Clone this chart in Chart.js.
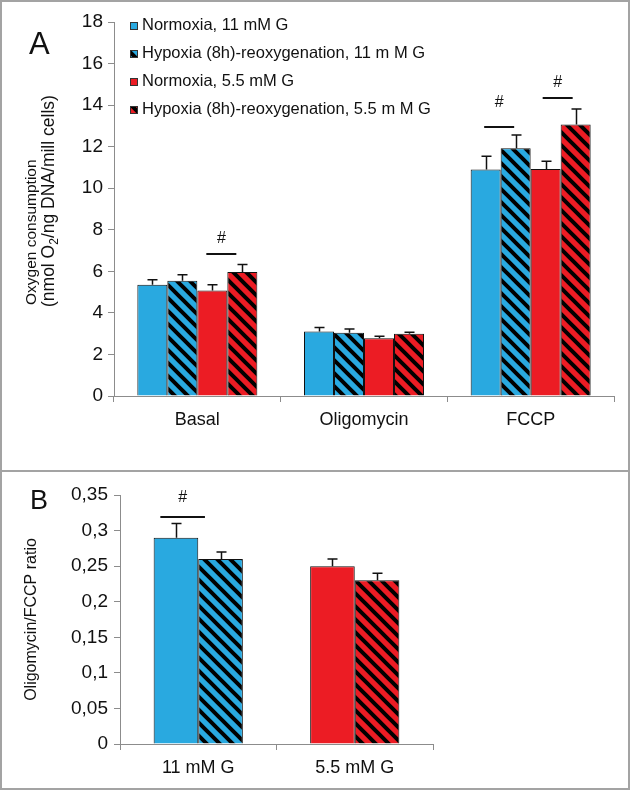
<!DOCTYPE html>
<html>
<head>
<meta charset="utf-8">
<script src="https://cdn.jsdelivr.net/npm/chart.js@4.4.1/dist/chart.umd.min.js"></script>
<style>
  body { margin: 0; background: #fff; }
  #wrap { position: relative; width: 630px; height: 790px; overflow: hidden; }
  canvas { position: absolute; left: 0; }
  #frame { position: absolute; left: 0; top: 0; width: 630px; height: 790px; box-sizing: border-box;
           border: 2px solid #a3a3a3; pointer-events: none; }
  #sep { position: absolute; left: 0; top: 470px; width: 630px; height: 2px; background: #a3a3a3; }
</style>
</head>
<body>
<div id="wrap">
  <canvas id="chartA" width="630" height="470" style="top:0"></canvas>
  <canvas id="chartB" width="630" height="316" style="top:472px"></canvas>
  <div id="sep"></div>
  <div id="frame"></div>
</div>
<script>
// panel A data
const groupsA = ['Basal', 'Oligomycin', 'FCCP'];
const seriesNames = [
  'Normoxia, 11 mM G',
  'Hypoxia (8h)-reoxygenation, 11 m M G',
  'Normoxia, 5.5 mM G',
  'Hypoxia (8h)-reoxygenation, 5.5 m M G'
];
const normo11 = [5.35, 3.1, 10.9];
const hypo11 = [5.55, 3.05, 11.92];
const normo55 = [5.08, 2.78, 10.92];
const hypo55 = [5.97, 3.0, 13.07];
const normo11Err = [0.25, 0.2, 0.64];
const hypo11Err = [0.28, 0.18, 0.64];
const normo55Err = [0.27, 0.1, 0.38];
const hypo55Err = [0.36, 0.07, 0.74];
const yTicksA = [0, 18, 2]; // min, max, step

// panel B data
const groupsB = ['11 mM G', '5.5 mM G'];
const normoB = [0.29, 0.25];
const hypoB = [0.26, 0.23];
const normoBErr = [0.02, 0.01];
const hypoBErr = [0.01, 0.01];
const yTicksB = [0, 0.35, 0.05];

// significance marks (# over a line), y in data units
const sigA = [
  { group: 0, from: 2, to: 3, y: 6.83, shift: -0.2, lift: 11 },
  { group: 2, from: 0, to: 1, y: 12.94, shift: -0.05, lift: 20 },
  { group: 2, from: 2, to: 3, y: 14.34, shift: -0.1, lift: 11 }
];
const sigB = [
  { group: 0, from: 0, to: 1, y: 0.3195, shift: -0.35, lift: 15 }
];

const BLUE = '#29a9e0';
const RED = '#ec1c24';
const AXIS = '#8c8c8c';
const FONT = '"Liberation Sans", Arial, sans-serif';

Chart.defaults.font.family = FONT;
Chart.defaults.color = '#111';

function hatch(color) {
  const n = 13;
  const c = document.createElement('canvas');
  c.width = n; c.height = n;
  const g = c.getContext('2d');
  g.fillStyle = color;
  g.fillRect(0, 0, n, n);
  g.strokeStyle = '#000';
  g.lineWidth = 4;
  g.beginPath();
  g.moveTo(-3, -3); g.lineTo(n + 3, n + 3);
  g.moveTo(-3, n - 3); g.lineTo(3, n + 3);
  g.moveTo(n - 3, -3); g.lineTo(n + 3, 3);
  g.stroke();
  return g.createPattern(c, 'repeat');
}
const blueHatch = hatch(BLUE);
const redHatch = hatch(RED);

// upward error bars with a cap
const errorBars = {
  id: 'errorBars',
  afterDatasetsDraw(chart, args, opts) {
    const ctx = chart.ctx;
    const y = chart.scales.y;
    ctx.save();
    ctx.strokeStyle = '#111';
    ctx.lineWidth = 1.5;
    chart.data.datasets.forEach((ds, i) => {
      chart.getDatasetMeta(i).data.forEach((bar, j) => {
        const top = y.getPixelForValue(ds.data[j] + ds.errors[j]);
        const x = Math.round(bar.x) + 0.5;
        ctx.beginPath();
        ctx.moveTo(x, bar.y);
        ctx.lineTo(x, top);
        ctx.moveTo(x - opts.cap, top);
        ctx.lineTo(x + opts.cap, top);
        ctx.stroke();
      });
    });
    ctx.restore();
  }
};

const sigMarks = {
  id: 'sigMarks',
  afterDatasetsDraw(chart, args, opts) {
    const ctx = chart.ctx;
    const y = chart.scales.y;
    ctx.save();
    ctx.strokeStyle = '#111';
    ctx.fillStyle = '#111';
    ctx.lineWidth = 2;
    ctx.font = '16px ' + FONT;
    ctx.textAlign = 'center';
    ctx.textBaseline = 'alphabetic';
    (opts.marks || []).forEach(m => {
      const a = chart.getDatasetMeta(m.from).data[m.group];
      const b = chart.getDatasetMeta(m.to).data[m.group];
      const x1 = a.x + m.shift * a.width;
      const x2 = b.x + m.shift * b.width;
      const py = Math.round(y.getPixelForValue(m.y));
      ctx.beginPath();
      ctx.moveTo(x1, py);
      ctx.lineTo(x2, py);
      ctx.stroke();
      ctx.fillText('#', (x1 + x2) / 2, py - m.lift);
    });
    ctx.restore();
  }
};

const legendBox = {
  id: 'legendBox',
  afterDraw(chart, args, o) {
    if (!o.show) return;
    const ctx = chart.ctx;
    ctx.save();
    ctx.font = o.size + 'px ' + FONT;
    ctx.textBaseline = 'middle';
    chart.data.datasets.forEach((ds, i) => {
      const cy = o.y + i * o.gap;
      ctx.fillStyle = ds.backgroundColor;
      ctx.fillRect(o.x, cy - 3, 8, 8);
      ctx.strokeStyle = '#333';
      ctx.lineWidth = 1;
      ctx.strokeRect(o.x + 0.5, cy - 2.5, 7, 7);
      ctx.fillStyle = '#111';
      ctx.fillText(ds.label, o.x + 12, cy);
    });
    ctx.restore();
  }
};

// panel letter and the stacked y title of panel A
const panelText = {
  id: 'panelText',
  afterDraw(chart, args, o) {
    const ctx = chart.ctx;
    ctx.save();
    ctx.fillStyle = '#111';
    ctx.font = o.letterSize + 'px ' + FONT;
    ctx.textBaseline = 'alphabetic';
    ctx.fillText(o.letter, o.letterX, o.letterY);
    (o.lines || []).forEach(line => {
      ctx.save();
      ctx.translate(line.x, line.y);
      ctx.rotate(-Math.PI / 2);
      let pos = 0;
      line.parts.forEach(p => {
        ctx.font = p.size + 'px ' + FONT;
        ctx.fillText(p.text, pos, p.dy || 0);
        pos += ctx.measureText(p.text).width;
      });
      ctx.restore();
    });
    ctx.restore();
  }
};

function axisStyle(extra) {
  return Object.assign({
    grid: { drawOnChartArea: false, tickLength: 6, color: AXIS, lineWidth: 1 },
    border: { color: AXIS, width: 1 }
  }, extra);
}

// ---------- panel A ----------
new Chart(document.getElementById('chartA'), {
  type: 'bar',
  data: {
    labels: groupsA,
    datasets: [
      { label: seriesNames[0], data: normo11, errors: normo11Err, backgroundColor: BLUE },
      { label: seriesNames[1], data: hypo11, errors: hypo11Err, backgroundColor: blueHatch },
      { label: seriesNames[2], data: normo55, errors: normo55Err, backgroundColor: RED },
      { label: seriesNames[3], data: hypo55, errors: hypo55Err, backgroundColor: redHatch }
    ].map(d => Object.assign(d, { borderColor: '#111', borderWidth: 1, categoryPercentage: 0.72, barPercentage: 1 }))
  },
  options: {
    responsive: false,
    animation: false,
    layout: { padding: { top: 22, right: 16, left: 0, bottom: 0 } },
    plugins: {
      legend: { display: false },
      tooltip: { enabled: false },
      errorBars: { cap: 5 },
      sigMarks: { marks: sigA },
      legendBox: { show: true, x: 130, y: 25, gap: 28, size: 16.5 },
      panelText: {
        letter: 'A', letterX: 29, letterY: 54, letterSize: 31,
        lines: [
          { x: 36, y: 305, parts: [{ text: 'Oxygen consumption', size: 15.5 }] },
          { x: 54, y: 307, parts: [
            { text: '(nmol O', size: 17.5 },
            { text: '2', size: 12, dy: 4 },
            { text: '/ng DNA/mill cells)', size: 17.5 }
          ] }
        ]
      }
    },
    scales: {
      x: axisStyle({
        ticks: { font: { size: 18 }, padding: 7, color: '#111' },
        afterFit(s) { s.height = 74; }
      }),
      y: axisStyle({
        min: yTicksA[0], max: yTicksA[1],
        ticks: { stepSize: yTicksA[2], font: { size: 19 }, padding: 5, color: '#111' },
        afterFit(s) { s.width = 114; }
      })
    }
  },
  plugins: [errorBars, sigMarks, legendBox, panelText]
});

// ---------- panel B ----------
new Chart(document.getElementById('chartB'), {
  type: 'bar',
  data: {
    labels: groupsB,
    datasets: [
      { label: 'Normoxia', data: normoB, errors: normoBErr, backgroundColor: [BLUE, RED] },
      { label: 'Hypoxia (8h)-reoxygenation', data: hypoB, errors: hypoBErr, backgroundColor: [blueHatch, redHatch] }
    ].map(d => Object.assign(d, { borderColor: '#111', borderWidth: 1, categoryPercentage: 0.57, barPercentage: 1 }))
  },
  options: {
    responsive: false,
    animation: false,
    layout: { padding: { top: 23, right: 197, left: 0, bottom: 0 } },
    plugins: {
      legend: { display: false },
      tooltip: { enabled: false },
      errorBars: { cap: 5 },
      sigMarks: { marks: sigB },
      legendBox: { show: false },
      panelText: { letter: 'B', letterX: 30, letterY: 37, letterSize: 27 }
    },
    scales: {
      x: axisStyle({
        ticks: { font: { size: 18 }, padding: 7, color: '#111' },
        afterFit(s) { s.height = 44; }
      }),
      y: axisStyle({
        min: yTicksB[0], max: yTicksB[1],
        title: { display: true, text: 'Oligomycin/FCCP ratio', font: { size: 16 }, padding: { top: 22, bottom: 0 }, color: '#111' },
        ticks: {
          stepSize: yTicksB[2], font: { size: 19 }, padding: 6, color: '#111',
          callback: v => String(+v.toFixed(2)).replace('.', ',')
        },
        afterFit(s) { s.width = 120; }
      })
    }
  },
  plugins: [errorBars, sigMarks, legendBox, panelText]
});
</script>
</body>
</html>
